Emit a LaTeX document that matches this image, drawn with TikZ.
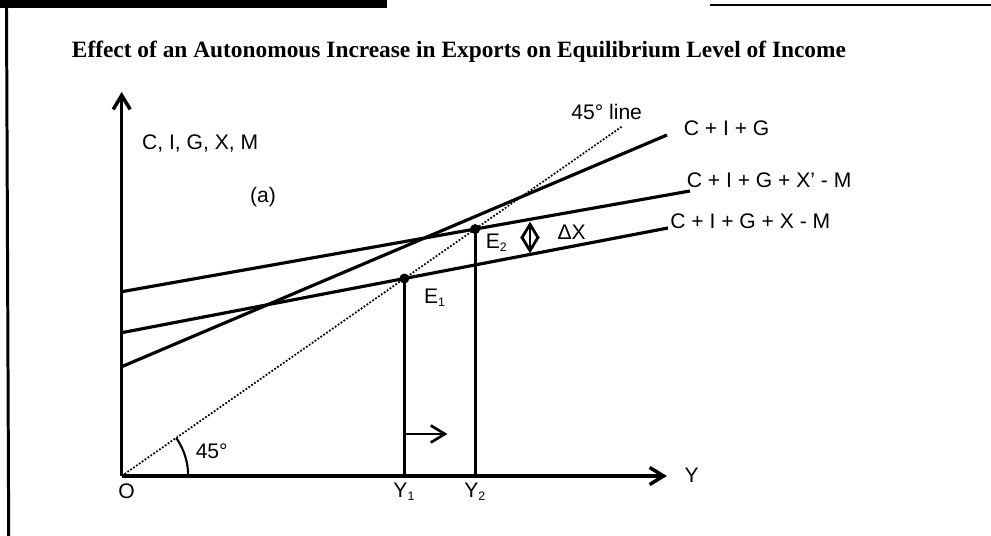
\documentclass[tikz,border=0pt]{standalone}
\usepackage{fontspec}
\setmainfont{Liberation Sans}
\newfontfamily\titlefont{Liberation Serif}
\usetikzlibrary{arrows.meta}
\newcommand{\lowidx}[1]{\textsubscript{\fontsize{7}{8}\selectfont #1}}

\begin{document}
\begin{tikzpicture}[>={Straight Barb[length=2.8mm, width=3.4mm]},
  every node/.style={font=\fontsize{12}{14}\selectfont, inner sep=1pt},
  sched/.style={line width=1.8pt},
  axis/.style={->, line width=2pt}]
  \useasboundingbox (-2.434,-1.2) rectangle (17.386,9.52);
  \fill (-2.434,9.36) rectangle (5.306,9.52);
  \draw[line width=1.2pt] (11.766,9.426) -- (17.386,9.426);
  \draw[line width=1.7pt] (-2.304,9.36) -- (-2.26,-1.2);
  \node[font=\titlefont\bfseries\fontsize{13.3}{16}\selectfont, anchor=base] (title) at (6.746,8.36)
        {Effect of an Autonomous Increase in Exports on Equilibrium Level of Income};

  \coordinate (O) at (0,0);
  \coordinate (ytop) at (0,7.68);
  \coordinate (xend) at (10.906,0);
  \coordinate (l45) at (10,6.986);
  \coordinate (cig0) at (0,2.186);
  \coordinate (cig1) at (10.906,6.82);
  \coordinate (xm0) at (0,2.866);
  \coordinate (xm1) at (10.926,4.96);
  \coordinate (xpm0) at (0,3.686);
  \coordinate (xpm1) at (11.366,5.7);
  \coordinate (E1) at (intersection of O--l45 and xm0--xm1);
  \coordinate (E2) at (intersection of O--l45 and xpm0--xpm1);
  \coordinate (Y1) at (E1 |- O);
  \coordinate (Y2) at (E2 |- O);

  \draw[axis] (O) -- (ytop);
  \draw[axis] (O) -- (xend);
  \draw[densely dotted, line width=1pt] (O) -- (l45);
  \draw[sched] (cig0) -- (cig1);
  \draw[sched] (xm0) -- (xm1);
  \draw[sched] (xpm0) -- (xpm1);
  \draw[line width=1.6pt] (E1) -- (Y1);
  \draw[line width=1.6pt] (E2) -- (Y2);
  \fill (E1) circle (0.1);
  \fill (E2) circle (0.1);
  \draw[line width=1.2pt] (1.33,0) arc[start angle=0, end angle=34.9, radius=1.33];

  \coordinate (sh0) at ([yshift=0.84cm]Y1);
  \coordinate (sh1) at ([xshift=0.86cm]sh0);
  \draw[->, line width=1.5pt] (sh0) -- (sh1);
  \coordinate (dx0) at (8.166,4.454);
  \coordinate (dx1) at (8.166,5.086);
  \draw[<->, line width=1.6pt] (dx0) -- (dx1);

  \node (lbl45) at (9.7,7.286) {45° line};
  \node[anchor=west] (lcig) at (11.2,6.96) {C + I + G};
  \node[anchor=west] (lxpm) at (11.26,5.92) {C + I + G + X' - M};
  \node[anchor=west] (lxm) at (10.93,5.1) {C + I + G + X - M};
  \node[anchor=west] (yaxis) at (0.366,6.66) {C, I, G, X, M};
  \node (part) at (2.826,5.58) {(a)};
  \node (ldx) at (9.0,4.874) {ΔX};
  \node (le2) at (7.5,4.666) {E\lowidx{2}};
  \node (le1) at (6.266,3.56) {E\lowidx{1}};
  \node (lo) at (0.1,-0.314) {O};
  \node[below=0.1cm] (ly1) at (Y1) {Y\lowidx{1}};
  \node[below=0.1cm] (ly2) at (Y2) {Y\lowidx{2}};
  \node (xaxis) at (11.4,0.02) {Y};
  \node (ang) at (1.8,0.486) {45°};
\end{tikzpicture}
\end{document}
